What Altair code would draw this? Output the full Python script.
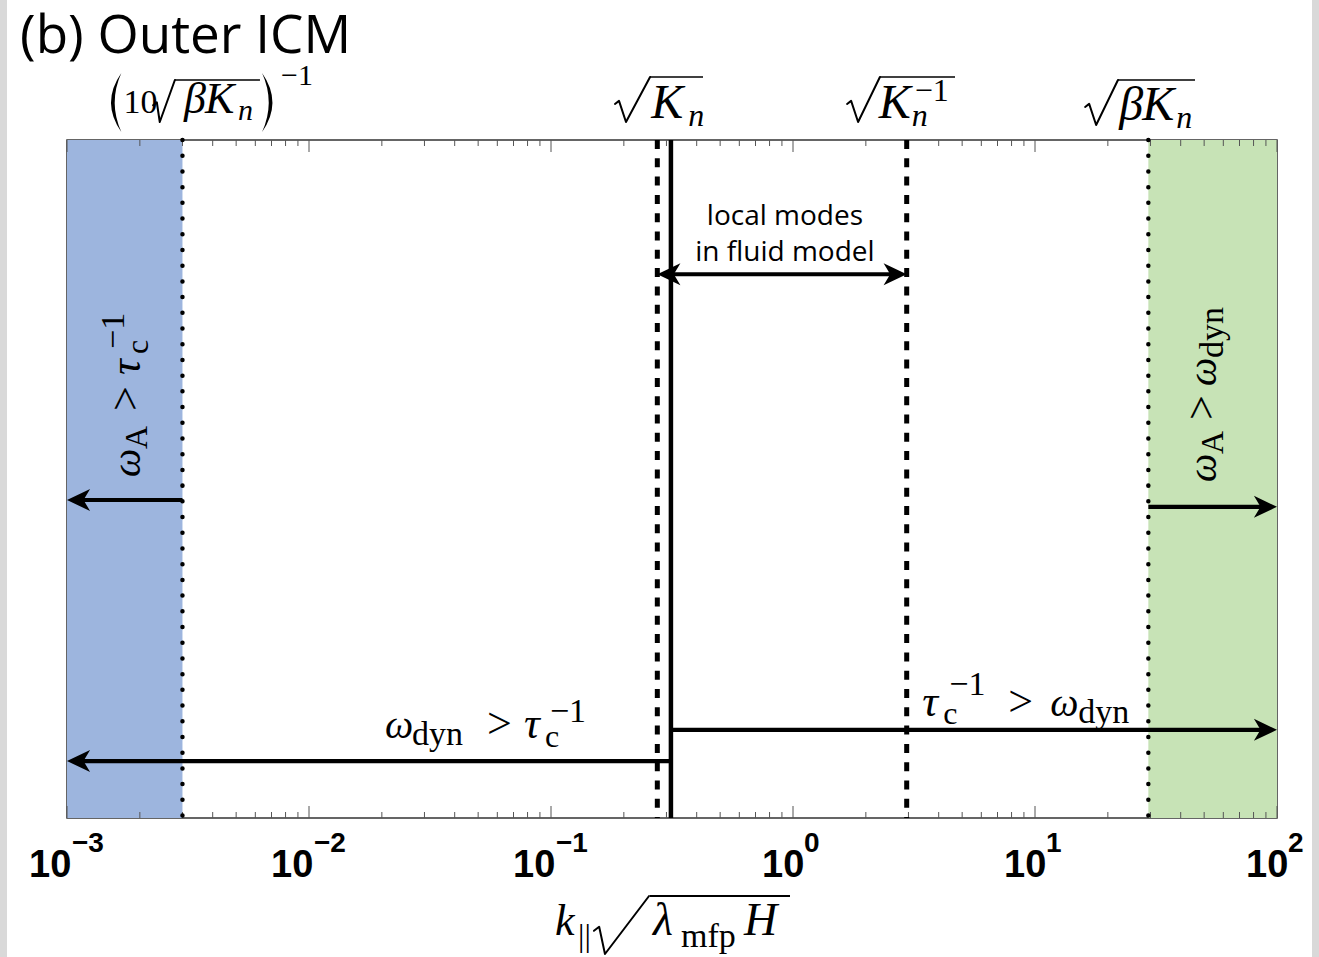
import altair as alt
import pandas as pd

# ---------------- data ----------------
x_domain = [1e-3, 1e2]
blue_region = [1e-3, 0.003]
green_region = [29.4, 100.0]
dotted_x = [0.003, 29.4]
dashed_x = [0.275, 2.95]
solid_x = [0.313]
# arrows: tail, tip, vertical level (fraction of plot height), head at both ends?
arrow_tail = [0.003, 29.4, 0.275, 0.313, 0.313]
arrow_tip = [0.001, 100.0, 2.95, 0.001, 100.0]
arrow_level = [0.469, 0.459, 0.802, 0.084, 0.130]
arrow_both = [False, False, True, False, False]
major_ticks = [1e-3, 1e-2, 1e-1, 1e0, 1e1, 1e2]
tick_exponents = ["\u22123", "\u22122", "\u22121", "0", "1", "2"]
minor_ticks = [m * 10.0 ** e for e in range(-3, 2) for m in range(2, 10)]

W, H = 1210, 678
MATH = "Liberation Serif"
SANS = "Open Sans"
BLUE = "#9db5de"
GREEN = "#c7e3b6"

XS = alt.Scale(type="log", domain=x_domain, nice=False)
YS = alt.Scale(domain=[0, 1])


def xq(field):
    return alt.X(f"{field}:Q", scale=XS, axis=None)


def one(v):
    return pd.DataFrame({"v": [v]})


def txt(anchor, text, dx, y, size, italic=False, font=MATH, angle=0, dy=0,
        align="left", weight="normal", px=None):
    kw = dict(text=text, dx=dx, dy=dy, fontSize=size, font=font, align=align,
              baseline="alphabetic", color="black", fontWeight=weight)
    if italic:
        kw["fontStyle"] = "italic"
    if angle:
        kw["angle"] = angle
    if px is not None:
        return alt.Chart(one(0)).mark_text(**kw).encode(x=alt.value(px), y=alt.value(y))
    return alt.Chart(one(anchor)).mark_text(**kw).encode(x=xq("v"), y=alt.value(y))


def overline(anchor, x0, x1, y, width=1.6, px=None):
    if px is not None:
        return alt.Chart(one(0)).mark_rule(strokeWidth=width, color="black").encode(
            x=alt.value(px + x0), x2=alt.value(px + x1), y=alt.value(y))
    return alt.Chart(one(anchor)).mark_rule(
        xOffset=x0, x2Offset=x1, strokeWidth=width, color="black"
    ).encode(x=xq("v"), x2=alt.X2("v"), y=alt.value(y))


def glyph(anchor, path, dx, y, height, filled=False, width=2.0, px=None):
    kw = dict(shape=path, size=height * height, filled=filled, color="black",
              opacity=1, strokeWidth=0 if filled else width, strokeJoin="round",
              strokeCap="round")
    if px is not None:
        return alt.Chart(one(0)).mark_point(**kw).encode(
            x=alt.value(px + dx), y=alt.value(y))
    return alt.Chart(one(anchor)).mark_point(xOffset=dx, **kw).encode(
        x=xq("v"), y=alt.value(y))


def radical(a, b):
    return f"M{-a:.2f},0.2 L{-a + 0.18:.2f},0.06 L{b:.2f},1 L{a:.2f},-1"


LPAREN = "M0.25,-1 Q-0.45,0 0.25,1 Q-0.2,0 0.25,-1 Z"
RPAREN = "M-0.25,-1 Q0.45,0 -0.25,1 Q0.2,0 -0.25,-1 Z"

layers = []

# shaded regions
regions = pd.DataFrame({"a": [blue_region[0], green_region[0]],
                        "b": [blue_region[1], green_region[1]],
                        "c": [BLUE, GREEN]})
layers.append(alt.Chart(regions).mark_rect().encode(
    x=xq("a"), x2="b", color=alt.Color("c:N", scale=None)))

# light grey page edges
for x0 in (-67, 1245):
    layers.append(alt.Chart(one(0)).mark_rect(color="#d9d9d9").encode(
        x=alt.value(x0), x2=alt.value(x0 + 7), y=alt.value(-140), y2=alt.value(817)))

# inward ticks, bottom and top
for vals, ln in ((major_ticks, 12), (minor_ticks, 6)):
    df = pd.DataFrame({"v": vals})
    layers.append(alt.Chart(df).mark_rule(color="#555", strokeWidth=1).encode(
        x=xq("v"), y=alt.value(H), y2=alt.value(H - ln)))
    layers.append(alt.Chart(df).mark_rule(color="#555", strokeWidth=1).encode(
        x=xq("v"), y=alt.value(0), y2=alt.value(ln)))

# vertical boundary lines
layers.append(alt.Chart(pd.DataFrame({"v": dotted_x})).mark_rule(
    color="black", strokeWidth=4.5, strokeDash=[0.01, 15.7], strokeCap="round").encode(x=xq("v")))
layers.append(alt.Chart(pd.DataFrame({"v": dashed_x})).mark_rule(
    color="black", strokeWidth=5, strokeDash=[9, 9.3]).encode(x=xq("v")))
layers.append(alt.Chart(pd.DataFrame({"v": solid_x})).mark_rule(
    color="black", strokeWidth=4.5).encode(x=xq("v")))

# arrows: shafts
HEAD = 12
for t, p, lv, both in zip(arrow_tail, arrow_tip, arrow_level, arrow_both):
    d = 1 if p < t else -1
    kw = dict(x2Offset=d * HEAD)
    if both:
        kw["xOffset"] = -d * HEAD
    layers.append(alt.Chart(pd.DataFrame({"a": [t], "b": [p], "y": [lv]})).mark_rule(
        color="black", strokeWidth=4.2, **kw).encode(
        x=xq("a"), x2="b", y=alt.Y("y:Q", scale=YS, axis=None)))

# arrows: heads
LEFT = "M0,0 L2.1,-1 L1.5,0 L2.1,1 Z"
RIGHT = "M0,0 L-2.1,-1 L-1.5,0 L-2.1,1 Z"
hx, hy, hd = [], [], []
for t, p, lv, both in zip(arrow_tail, arrow_tip, arrow_level, arrow_both):
    hx.append(p); hy.append(lv); hd.append("L" if p < t else "R")
    if both:
        hx.append(t); hy.append(lv); hd.append("R" if p < t else "L")
heads = pd.DataFrame({"v": hx, "y": hy, "d": hd})
for key, shape in (("L", LEFT), ("R", RIGHT)):
    layers.append(alt.Chart(heads[heads.d == key]).mark_point(
        shape=shape, filled=True, size=484, color="black", opacity=1, strokeWidth=0).encode(
        x=xq("v"), y=alt.Y("y:Q", scale=YS, axis=None)))

# ---------------- text ----------------
# panel title
layers.append(txt(None, "(b) Outer ICM", 0, -87, 53, font=SANS, px=-47))

# labels above the plot
a = dotted_x[0]
layers += [
    glyph(a, LPAREN, -68.5, -37.5, 59, filled=True),
    txt(a, "10", -59, -27, 34),
    glyph(a, radical(0.52, -0.2), -18.5, -39, 42),
    overline(a, -7.5, 77.5, -60),
    txt(a, "\u03b2", 1.5, -27, 44, italic=True),
    txt(a, "K", 22.5, -27, 44, italic=True),
    txt(a, "n", 55.5, -20, 30, italic=True),
    glyph(a, RPAREN, 87, -37.5, 59, filled=True),
    txt(a, "\u22121", 98.5, -55, 30),
]
a = dashed_x[0]
layers += [
    glyph(a, radical(0.78, -0.29), -24.8, -40.5, 45),
    overline(a, -7.3, 45.7, -63),
    txt(a, "K", -6, -22, 48, italic=True),
    txt(a, "n", 31, -14, 32, italic=True),
]
a = dashed_x[1]
layers += [
    glyph(a, radical(0.73, -0.24), -43.2, -40.5, 45),
    overline(a, -26.7, 48.3, -63),
    txt(a, "K", -28, -22, 48, italic=True),
    txt(a, "n", 5, -14, 32, italic=True),
    txt(a, "\u22121", 8, -39, 32),
]
a = dotted_x[1]
layers += [
    glyph(a, radical(0.73, -0.24), -46.8, -37.5, 45),
    overline(a, -30.3, 46.7, -60),
    txt(a, "\u03b2", -29, -20, 48, italic=True),
    txt(a, "K", -6, -20, 48, italic=True),
    txt(a, "n", 28, -12, 32, italic=True),
]

# fluid-model annotation
a = solid_x[0]
layers += [
    txt(a, "local modes", 114, 85, 28, font=SANS, align="center"),
    txt(a, "in fluid model", 114, 121, 28, font=SANS, align="center"),
]

# omega_dyn > tau_c^-1  (lower left)
layers += [
    txt(a, "\u03c9", -286, 598, 40, italic=True),
    txt(a, "dyn", -259, 605, 34),
    txt(a, ">", -184, 598, 44),
    txt(a, "\u03c4", -147, 598, 44, italic=True),
    txt(a, "c", -126, 607, 32),
    txt(a, "\u22121", -121, 582, 34),
]
# tau_c^-1 > omega_dyn (lower right)
a = dotted_x[1]
layers += [
    txt(a, "\u03c4", -226, 576, 44, italic=True),
    txt(a, "c", -205, 584, 32),
    txt(a, "\u22121", -199, 555, 34),
    txt(a, ">", -140, 576, 44),
    txt(a, "\u03c9", -98, 576, 40, italic=True),
    txt(a, "dyn", -70, 583, 34),
]
# rotated: omega_A > tau_c^-1 (blue)
a = x_domain[0]
layers += [
    txt(a, "\u03c9", 0, 337, 40, italic=True, angle=270, dy=73),
    txt(a, "A", 28, 337, 32, angle=270, dy=80),
    txt(a, ">", 66, 337, 44, angle=270, dy=73),
    txt(a, "\u03c4", 102, 337, 44, angle=270, dy=73, italic=True),
    txt(a, "c", 123, 337, 32, angle=270, dy=81),
    txt(a, "\u22121", 128, 337, 34, angle=270, dy=57),
]
# rotated: omega_A > omega_dyn (green)
a = dotted_x[1]
layers += [
    txt(a, "\u03c9", 0, 342, 40, italic=True, angle=270, dy=68),
    txt(a, "A", 28, 342, 32, angle=270, dy=75),
    txt(a, ">", 62, 342, 44, angle=270, dy=68),
    txt(a, "\u03c9", 96, 342, 40, angle=270, dy=68, italic=True),
    txt(a, "dyn", 124, 342, 34, angle=270, dy=75),
]

# x tick labels 10^e
tl = pd.DataFrame({"v": major_ticks, "e": tick_exponents,
                   "neg": [e.startswith("\u2212") for e in tick_exponents]})
for neg, d10, dex in ((True, -38, 5), (False, -31, 11)):
    sub = tl[tl.neg == neg]
    layers.append(alt.Chart(sub).mark_text(
        text="10", dx=d10, align="left", baseline="alphabetic", fontSize=38,
        font="Liberation Sans", fontWeight="bold", color="black").encode(
        x=xq("v"), y=alt.value(737)))
    layers.append(alt.Chart(sub).mark_text(
        dx=dex, align="left", baseline="alphabetic", fontSize=28,
        font="Liberation Sans", fontWeight="bold", color="black").encode(
        x=xq("v"), y=alt.value(712), text="e:N"))

# x-axis title: k_par sqrt(lambda_mfp H)
layers += [
    txt(None, "k", 0, 795, 44, italic=True, px=488),
    txt(None, "||", 0, 806, 32, px=511),
    glyph(None, radical(0.95, -0.57), 0, 785, 58, px=554.5),
    overline(None, 0, 140, 756, width=1.8, px=583),
    txt(None, "\u03bb", 0, 795, 46, italic=True, px=586),
    txt(None, "mfp", 0, 807, 34, px=614),
    txt(None, "H", 0, 795, 46, italic=True, px=677),
]

chart = alt.layer(*layers).properties(
    width=W, height=H,
    autosize=alt.AutoSizeParams(type="none"),
    padding={"left": 67, "top": 140, "right": 42, "bottom": 139},
    background="white",
).configure_view(stroke="#333", strokeWidth=1.5)

chart.save("out.html", embed_options={"renderer": "svg", "actions": False})
